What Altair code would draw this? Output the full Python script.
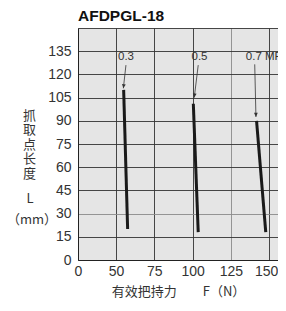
import altair as alt
import pandas as pd

# ---- data ----
pressure = ["0.3", "0.5", "0.7"]
force_top = [55.0, 100.5, 141.8]
length_top = [110, 101, 90]
force_bottom = [57.6, 103.7, 147.8]
length_bottom = [20, 18, 18]

label_text = ["0.3", "0.5", "0.7 MPa"]
label_force = [51.3, 99.3, 134.8]
label_length = [131.2, 131.2, 131.2]

arrow_force_start = [56.5, 103.7, 140.6]
arrow_length_start = [126, 126, 126.5]
arrow_force_end = [54.8, 101.1, 141.4]
arrow_length_end = [111, 105, 92.5]
arrow_angle = [7, 7, 359]

x_ticks = [0, 50, 75, 100, 125, 150]
y_ticks = [0, 15, 30, 45, 60, 75, 90, 105, 120, 135, 150]
chart_title = "AFDPGL-18"
y_title_chars = ["抓", "取", "点", "长", "度"]
y_title_symbol = "L"
y_title_unit = "（mm）"

# ---- tables ----
lines_df = pd.DataFrame({
    "p": pressure * 2,
    "F": force_top + force_bottom,
    "L": length_top + length_bottom,
})
labels_df = pd.DataFrame({"t": label_text, "F": label_force, "L": label_length})
arrows_df = pd.DataFrame({
    "F": arrow_force_start, "L": arrow_length_start,
    "F2": arrow_force_end, "L2": arrow_length_end, "a": arrow_angle,
})

# broken x axis: 0-50 squeezed into one 25-unit cell
xscale = alt.Scale(domain=[0, 50, 155.8], range=[0, 38, 200], nice=False, zero=False)
yscale = alt.Scale(domain=[0, 150], nice=False, zero=False)

num_font = "Liberation Sans"
cjk_font = "Noto Sans CJK SC"

x_axis = alt.Axis(
    values=x_ticks, grid=True, ticks=False, labelFlush=False, labelOverlap=False,
    labelOffset={"condition": {"test": "datum.value === 150", "value": -3}, "value": 0},
    gridColor={"condition": {"test": "datum.value === 125", "value": "#8a8a8a"}, "value": "#333333"},
    gridWidth=0.9, domainColor="#222222", domainWidth=1,
    labelFont=num_font, labelFontSize=14, labelColor="#333333", labelPadding=4,
    title="有效把持力　　F（N）", titleFont=cjk_font, titleFontSize=13,
    titleFontWeight="normal", titleColor="#333333", titleY=25, titleBaseline="top",
)
y_axis = alt.Axis(
    values=y_ticks, grid=True, ticks=False, labelFlush=False, labelOverlap=False,
    labelExpr="datum.value == 150 ? '' : datum.label",
    gridColor={"condition": {"test": "datum.value === 30", "value": "#8a8a8a"}, "value": "#333333"},
    gridWidth=0.9, domainColor="#222222", domainWidth=1,
    labelFont=num_font, labelFontSize=14, labelColor="#333333", labelPadding=7,
    title=y_title_chars, titleFont=cjk_font,
    titleFontSize=13, titleFontWeight="normal", titleColor="#333333",
    titleAngle=0, titleX=-49, titleY=81, titleAlign="center", titleBaseline="top",
    titleLineHeight=14.5,
)


def X(field):
    return alt.X(f"{field}:Q", scale=xscale, axis=x_axis)


def Y(field):
    return alt.Y(f"{field}:Q", scale=yscale, axis=y_axis)


lines = alt.Chart(lines_df).mark_line(color="#1a1a1a", strokeWidth=3, clip=True).encode(
    x=X("F"), y=Y("L"), detail="p:N",
)

arrows = alt.Chart(arrows_df).mark_rule(color="#333333", strokeWidth=0.8).encode(
    x=X("F"), y=Y("L"), x2="F2:Q", y2="L2:Q",
)
heads = alt.Chart(arrows_df).mark_point(
    shape="M0,0 L-0.45,-1 L0.45,-1 Z", filled=True, color="#333333", size=70, opacity=1,
).encode(x=X("F2"), y=Y("L2"), angle=alt.Angle("a:Q", scale=None))

labels = alt.Chart(labels_df).mark_text(
    align="left", baseline="middle", font=num_font, fontSize=11.5, color="#333333",
).encode(x=X("F"), y=Y("L"), text="t:N")

title_mark = alt.Chart(pd.DataFrame({"t": [chart_title]})).mark_text(
    align="left", baseline="alphabetic", font=num_font, fontSize=15.5,
    fontWeight="bold", color="#111111",
).encode(x=alt.value(0), y=alt.value(-7), text="t:N")

sym_mark = alt.Chart(pd.DataFrame({"t": [y_title_symbol]})).mark_text(
    align="center", baseline="middle", font=cjk_font, fontSize=13, color="#333333",
).encode(x=alt.value(-48), y=alt.value(171), text="t:N")

unit_mark = alt.Chart(pd.DataFrame({"t": [y_title_unit]})).mark_text(
    align="center", baseline="middle", font=cjk_font, fontSize=13, color="#333333",
).encode(x=alt.value(-46), y=alt.value(192), text="t:N")

chart = alt.layer(lines, arrows, heads, labels, title_mark, sym_mark, unit_mark).properties(
    width=200, height=232,
    autosize=alt.AutoSizeParams(type="none"),
    padding={"left": 70, "top": 20, "right": 0, "bottom": 38},
    background="white",
).configure_view(fill="#e5e5e5", stroke=None)

chart.save("out.html", embed_options={"renderer": "svg", "actions": False})
